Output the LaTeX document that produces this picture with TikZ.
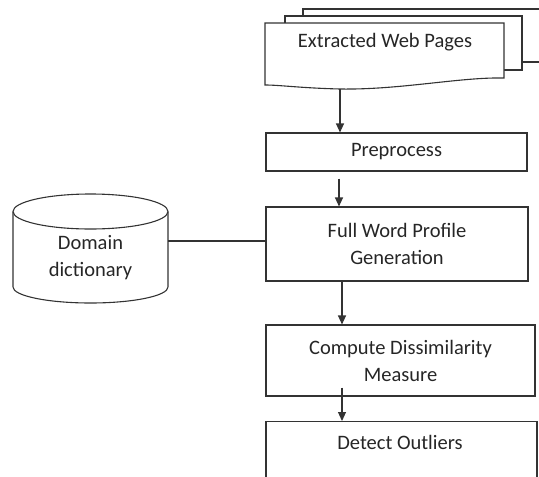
\documentclass[tikz,border=0pt]{standalone}
\usepackage{fontspec}
\setmainfont{Carlito}
\usetikzlibrary{arrows.meta,calc}
\begin{document}
\begin{tikzpicture}[x=1pt,y=-1pt,
  ln/.style={draw=black!80,line width=1.1pt},
  box/.style={ln,rectangle,inner sep=0pt,align=center,text=black!85},
  lbl/.style={align=center,text=black!85,inner sep=0pt},
  arr/.style={ln,-{Triangle[length=9pt,width=8pt]}},
  font=\fontsize{20.5}{27}\selectfont]
\useasboundingbox (0,0) rectangle (539,477);
\clip (0,0) rectangle (539,477);
% stacked documents
\draw[ln] (303,16) -- (303,9) -- (560,9);
\draw[ln] (522,62) -- (560,62);
\draw[ln] (285,23) -- (285,16) -- (522,16) -- (522,70) -- (504,70);
\draw[ln,fill=white] (265,23) -- (504,23) -- (504,78)
   .. controls (460,77) and (400,90) .. (340,89)
   .. controls (300,88) and (280,85) .. (265,85) -- cycle;
\node[lbl] (docs) at (385,42) {Extracted Web Pages};
\coordinate (docbot) at (340,89);
% boxes
\node[box,minimum width=261pt,minimum height=38pt] (pre) at (396.5,152) {Preprocess};
\node[box,minimum width=262pt,minimum height=74pt] (full) at (397,244) {Full Word Profile\\Generation};
\node[box,minimum width=269pt,minimum height=71pt] (comp) at (400.5,360.5) {Compute Dissimilarity\\Measure};
\node[box,minimum width=271pt,minimum height=79pt,anchor=north] (det) at (401.5,421) {};
\node[lbl] at (400,442) {Detect Outliers};
% cylinder
\draw[ln] (13,211.5) -- (13,287) arc[start angle=180,end angle=0,x radius=77.5,y radius=16] -- (168,211.5);
\draw[ln] (90.5,211.5) ellipse[x radius=77.5,y radius=17.5];
\node[lbl] (dict) at (90.5,258) {Domain\\dictionary};
\coordinate (dictr) at (168,241);
% connectors
\draw[arr] (docbot) -- (docbot |- pre.north);
\draw[arr] ([xshift=-57.5pt,yshift=-7pt]pre.south) -- ([xshift=-58pt]full.north);
\draw[arr] ([xshift=-55pt]full.south) -- ([xshift=-58.5pt]comp.north);
\draw[arr] ([xshift=-58.5pt,yshift=9pt]comp.south) -- ([xshift=-59.5pt]det.north);
\draw[ln] (dictr) -- (dictr -| full.west);
\end{tikzpicture}
\end{document}
